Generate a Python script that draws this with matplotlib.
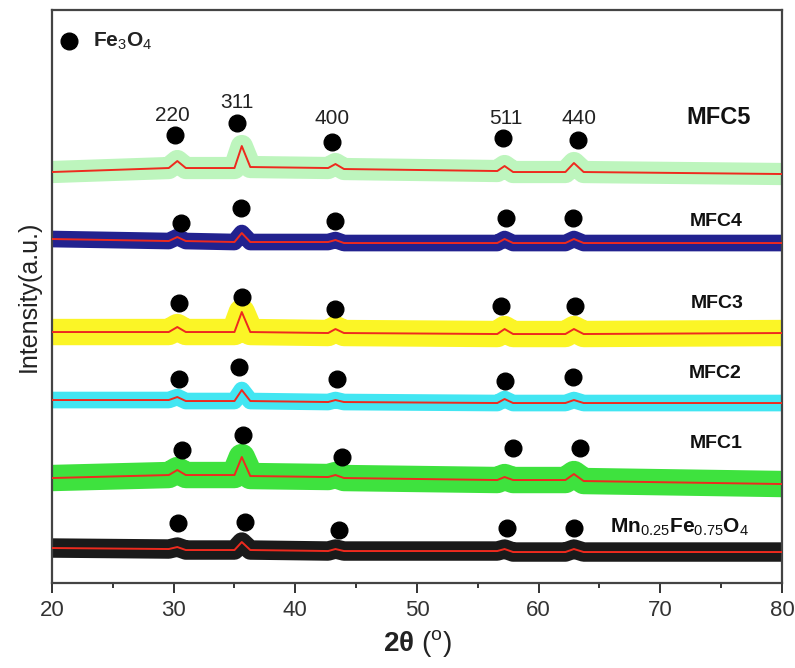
import matplotlib
matplotlib.use("Agg")
import matplotlib.pyplot as plt
from matplotlib.ticker import MultipleLocator

plt.rcParams['font.family'] = ['Liberation Sans', 'DejaVu Sans']
plt.rcParams['mathtext.fontset'] = 'custom'
plt.rcParams['mathtext.rm'] = 'Liberation Sans'
plt.rcParams['mathtext.bf'] = 'Liberation Sans:bold'
plt.rcParams['mathtext.it'] = 'Liberation Sans:italic'

# ---- data ----
two_theta = [20, 29.6, 30.3, 31.0, 35.0, 35.6, 36.3, 42.7, 43.3, 44.0,
             56.6, 57.2, 57.9, 62.2, 62.9, 63.7, 80]

samples = ["Mn$_{0.25}$Fe$_{0.75}$O$_{4}$", "MFC1", "MFC2", "MFC3", "MFC4", "MFC5"]

int_mn = [35, 34, 36, 33, 33, 41, 33, 32, 34, 32, 32, 34, 31, 31, 34, 31, 31]
int_mfc1 = [105, 108, 113, 108, 108, 126, 107, 106, 108, 105, 103, 106, 103, 103, 109, 102, 99]
int_mfc2 = [183, 183, 186, 182, 182, 193, 182, 181, 183, 181, 180, 184, 180, 180, 183, 180, 180]
int_mfc3 = [251, 251, 256, 251, 251, 271, 251, 250, 254, 250, 249, 254, 249, 249, 254, 249, 250]
int_mfc4 = [344, 342, 346, 342, 341, 350, 341, 341, 343, 340, 340, 344, 340, 340, 344, 340, 340]
int_mfc5 = [411, 415, 422, 415, 415, 437, 416, 415, 419, 414, 412, 417, 411, 411, 420, 411, 409]
intensities = [int_mn, int_mfc1, int_mfc2, int_mfc3, int_mfc4, int_mfc5]

# Fe3O4 reflection markers (2theta, height) per sample
mark_x_mn = [30.35, 35.9, 43.6, 57.4, 62.9]
mark_y_mn = [60, 61, 53, 55, 55]
mark_x_mfc1 = [30.7, 35.7, 43.8, 57.9, 63.4]
mark_y_mfc1 = [133, 148, 126, 135, 135]
mark_x_mfc2 = [30.4, 35.4, 43.4, 57.2, 62.8]
mark_y_mfc2 = [204, 216, 204, 202, 206]
mark_x_mfc3 = [30.4, 35.6, 43.25, 56.9, 63.0]
mark_y_mfc3 = [280, 286, 274, 277, 277]
mark_x_mfc4 = [30.6, 35.5, 43.3, 57.3, 62.8]
mark_y_mfc4 = [360, 375, 362, 365, 365]
mark_x_mfc5 = [30.1, 35.2, 43.0, 57.1, 63.2]
mark_y_mfc5 = [448, 460, 441, 445, 443]
marks_x = [mark_x_mn, mark_x_mfc1, mark_x_mfc2, mark_x_mfc3, mark_x_mfc4, mark_x_mfc5]
marks_y = [mark_y_mn, mark_y_mfc1, mark_y_mfc2, mark_y_mfc3, mark_y_mfc4, mark_y_mfc5]

hkl_labels = ["220", "311", "400", "511", "440"]
hkl_x = [29.9, 35.2, 43.0, 57.3, 63.3]
hkl_y = [468, 481, 465, 465, 465]

label_x = [71.6, 74.6, 74.5, 74.7, 74.6, 74.8]
label_y = [56, 140, 210, 280, 362, 466]

# ---- styles ----
band_colors = ['#1a1a1a', '#3ee23e', '#42e6f2', '#fbf526', '#22228f', '#bdf5bd']
band_widths = [14, 19, 12, 19, 12, 16]
label_sizes = [15, 14, 14, 14, 14, 17]

fig = plt.figure(figsize=(7.95, 6.68), dpi=100)
ax = fig.add_axes([0.0654, 0.1272, 0.9182, 0.8578])

for i in range(len(samples)):
    ax.plot(two_theta, intensities[i], color=band_colors[i], lw=band_widths[i],
            solid_joinstyle='round', solid_capstyle='butt', zorder=2)
    ax.plot(two_theta, intensities[i], color='#ee2a1e', lw=1.4, zorder=3)
    ax.plot(marks_x[i], marks_y[i], 'o', color='black', ms=12, zorder=4)
    ax.text(label_x[i], label_y[i], samples[i], fontsize=label_sizes[i],
            fontweight='bold', ha='center', va='center', color='#111111')

for t, x, y in zip(hkl_labels, hkl_x, hkl_y):
    ax.text(x, y, t, fontsize=15, ha='center', va='center', color='#222222')

# legend-like marker
ax.plot([21.4], [542], 'o', color='black', ms=12)
ax.text(23.4, 542, "Fe$_{3}$O$_{4}$", fontsize=15, fontweight='bold',
        ha='left', va='center', color='#222222')

ax.set_xlim(20, 80)
ax.set_ylim(0, 573)
ax.set_yticks([])
ax.xaxis.set_major_locator(MultipleLocator(10))
ax.xaxis.set_minor_locator(MultipleLocator(5))
ax.tick_params(axis='x', which='major', direction='out', length=7, width=1.4,
               labelsize=16, colors='#333333', pad=5)
ax.tick_params(axis='x', which='minor', direction='out', length=3.5, width=1.4,
               colors='#333333')
for s in ax.spines.values():
    s.set_linewidth(1.6)
    s.set_color('#444444')

ax.set_xlabel(r'$\mathbf{2\theta}$ ($^{\mathrm{o}}$)', fontsize=20, labelpad=5,
              color='#222222')
ax.set_ylabel('Intensity(a.u.)', fontsize=18, labelpad=8, color='#222222')

fig.savefig('out.png', dpi=100)
